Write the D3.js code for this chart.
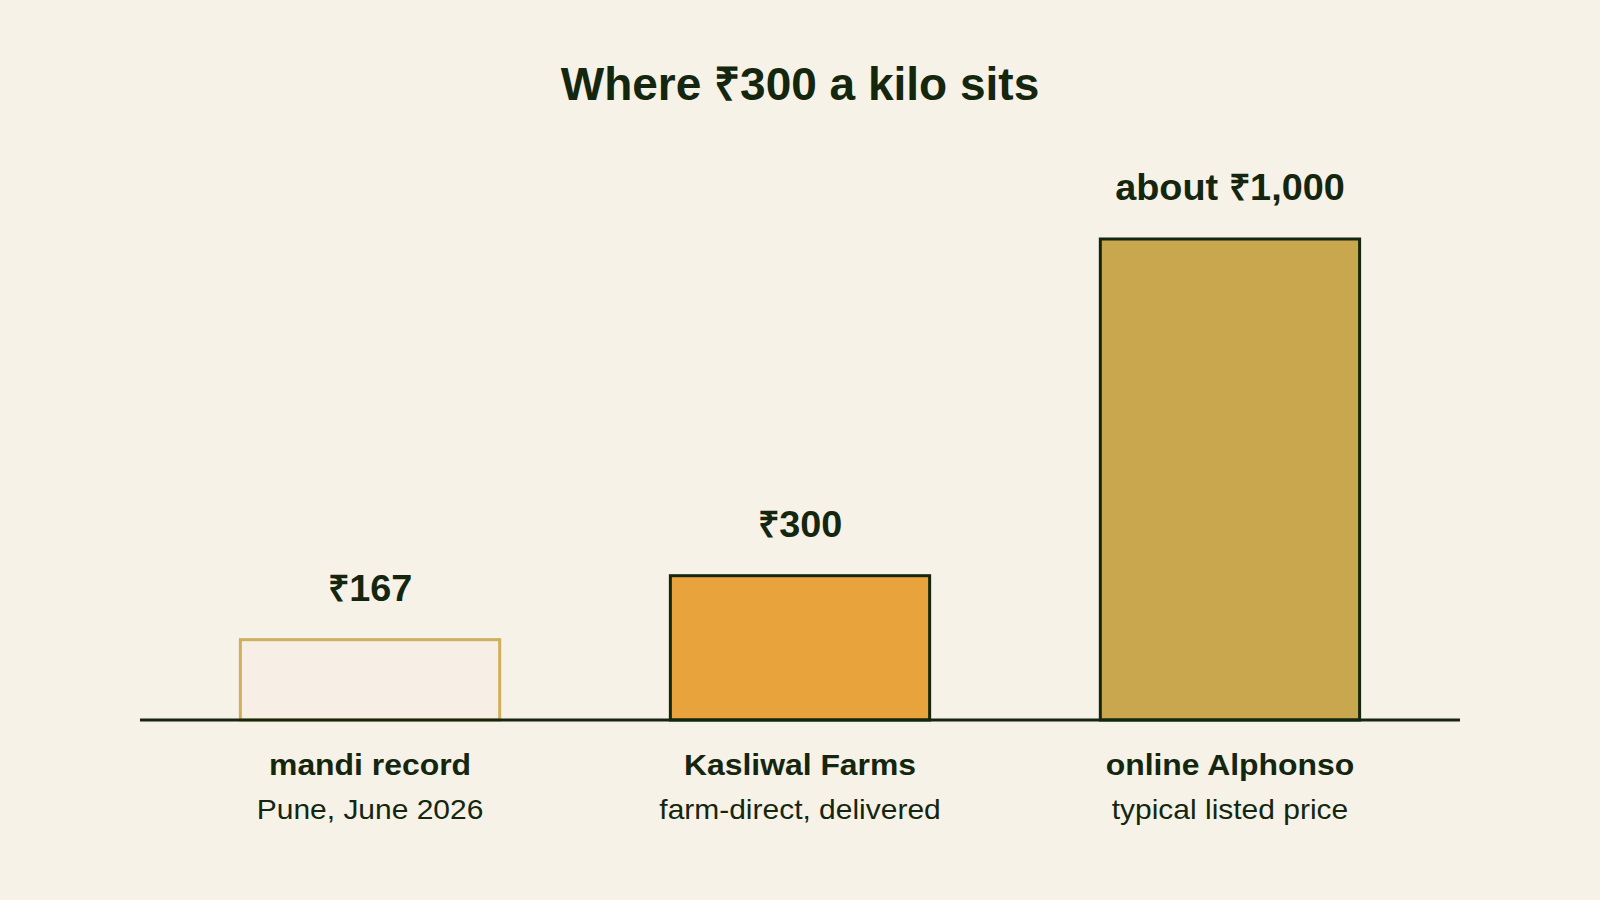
<!DOCTYPE html>
<html>
<head>
<meta charset="utf-8">
<script src="https://cdn.jsdelivr.net/npm/d3@7"></script>
<style>
  html, body { margin: 0; padding: 0; background: #f6f2e8; }
  svg { display: block; font-family: "Liberation Sans", Arial, Helvetica, sans-serif; }
</style>
</head>
<body>
<div id="chart"></div>
<script>
// chart data
let categories = ["mandi record", "Kasliwal Farms", "online Alphonso"];
let subtitles = ["Pune, June 2026", "farm-direct, delivered", "typical listed price"];
let prices = [167, 300, 1000];
let valueLabels = ["₹167", "₹300", "about ₹1,000"];

let dim = {
    'width': 1600,
    'height': 900
};

let ink = '#15260f';

let svg = d3.select('#chart').append('svg')
    .attr('width', dim.width)
    .attr('height', dim.height);

svg.append('rect')
    .attr('width', dim.width)
    .attr('height', dim.height)
    .attr('fill', '#f6f2e8');

let scaleX = d3.scaleBand()
    .domain(categories)
    .range([140, 1460])
    .paddingInner(0.39)
    .paddingOuter(0.23);

let scaleY = d3.scaleLinear()
    .domain([0, 1000])
    .range([720, 239]);

let fills = d3.scaleOrdinal()
    .domain(categories)
    .range(['#f7efe5', '#e8a33c', '#c9a74e']);

let strokes = d3.scaleOrdinal()
    .domain(categories)
    .range(['#cfae5c', ink, ink]);

let data = categories.map((c, i) => ({
    cat: c,
    sub: subtitles[i],
    value: prices[i],
    label: valueLabels[i]
}));

let midX = d => scaleX(d.cat) + scaleX.bandwidth() / 2;

// title
svg.append('text')
    .attr('x', 800)
    .attr('y', 100)
    .attr('text-anchor', 'middle')
    .attr('font-size', 46)
    .attr('font-weight', 'bold')
    .attr('fill', ink)
    .text('Where ₹300 a kilo sits');

// bars
svg.selectAll('rect.bar')
    .data(data)
    .join('rect')
    .attr('class', 'bar')
    .attr('x', d => scaleX(d.cat) + 1.5)
    .attr('y', d => scaleY(d.value))
    .attr('width', scaleX.bandwidth() - 3)
    .attr('height', d => scaleY(0) - scaleY(d.value))
    .attr('fill', d => fills(d.cat))
    .attr('stroke', d => strokes(d.cat))
    .attr('stroke-width', 3);

// baseline
svg.append('line')
    .attr('x1', scaleX.range()[0])
    .attr('x2', scaleX.range()[1])
    .attr('y1', scaleY(0))
    .attr('y2', scaleY(0))
    .attr('stroke', ink)
    .attr('stroke-width', 3);

// value labels (font is a touch wider in the original, so stretch a little)
svg.selectAll('text.value')
    .data(data)
    .join('text')
    .attr('class', 'value')
    .attr('transform', d => `translate(${midX(d)},${scaleY(d.value) - 39}) scale(1.05,1)`)
    .attr('text-anchor', 'middle')
    .attr('font-size', 36)
    .attr('font-weight', 'bold')
    .attr('fill', ink)
    .text(d => d.label);

// category labels
svg.selectAll('text.cat')
    .data(data)
    .join('text')
    .attr('class', 'cat')
    .attr('transform', d => `translate(${midX(d)},775) scale(1.1,1)`)
    .attr('text-anchor', 'middle')
    .attr('font-size', 29)
    .attr('font-weight', 'bold')
    .attr('fill', ink)
    .text(d => d.cat);

svg.selectAll('text.sub')
    .data(data)
    .join('text')
    .attr('class', 'sub')
    .attr('transform', d => `translate(${midX(d)},819) scale(1.11,1)`)
    .attr('text-anchor', 'middle')
    .attr('font-size', 27)
    .attr('fill', ink)
    .text(d => d.sub);
</script>
</body>
</html>
